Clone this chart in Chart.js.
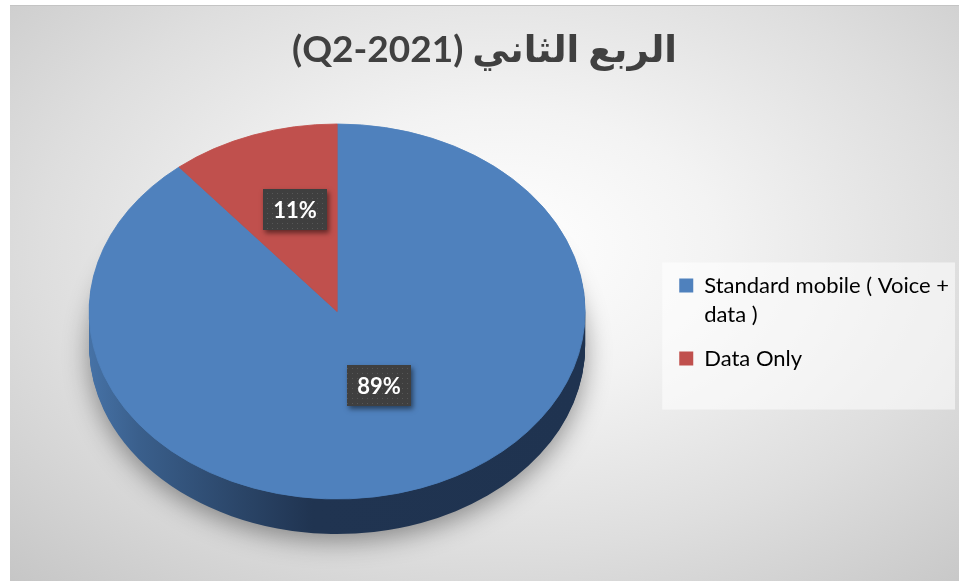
<!DOCTYPE html>
<html>
<head>
<meta charset="utf-8">
<script src="https://cdn.jsdelivr.net/npm/chart.js@4.4.1/dist/chart.umd.min.js"></script>
<style>
  html, body { margin: 0; padding: 0; background: #fff; }
  #wrap {
    position: absolute; left: 10px; top: 5px; width: 949px; height: 576px;
    background: radial-gradient(ellipse 75% 80% at 52% 42%, #ffffff 0%, #f3f3f3 30%, #dedede 65%, #c6c6c6 100%);
    border-top: 1px solid #c4c4c4;
  }
</style>
</head>
<body>
<div id="wrap"><canvas id="chartQ2" width="949" height="576"></canvas></div>
<script>
const chartTitle = '\u202Bالربع الثاني (Q2-2021)\u202C';
const categories = ['Standard mobile ( Voice + data )', 'Data Only'];
const legendLines = [['Standard mobile ( Voice +', 'data )'], ['Data Only']];
const shares = [89, 11];

const TILT = 0.756;   // squash of the top face
const DEPTH = 35;     // pie thickness
const LIFT = -14;     // moves the projected centre up
const LABEL_LIFT = -14;

function project(arc, x, y) {
    return { x: x, y: arc.y + LIFT + (y - arc.y) * TILT };
}

function setTilt(ctx, arc, extra) {
    ctx.translate(0, arc.y + LIFT + extra);
    ctx.scale(1, TILT);
    ctx.translate(0, -arc.y);
}

function ghost(arc, bg) {
    const g = Object.create(arc);
    g.options = Object.assign({}, arc.options, { backgroundColor: bg, borderWidth: 0 });
    return g;
}

const dots = document.createElement('canvas');
dots.width = 5; dots.height = 5;
const dctx = dots.getContext('2d');
dctx.fillStyle = '#3f3f3f';
dctx.fillRect(0, 0, 5, 5);
dctx.fillStyle = '#575757';
dctx.fillRect(2, 2, 1, 1);

const pie3d = {
    id: 'pie3d',
    beforeDraw(chart) {
        const lg = chart.legend;
        if (!lg || !lg.legendHitBoxes || !lg.legendHitBoxes.length) return;
        const hb = lg.legendHitBoxes;
        const last = hb[hb.length - 1];
        const ctx = chart.ctx;
        ctx.save();
        ctx.fillStyle = 'rgba(255,255,255,0.55)';
        const top = hb[0].top - 12;
        ctx.fillRect(lg.left - 2, top, lg.right - lg.left - 2, last.top + last.height + 33 - top);
        ctx.restore();
    },
    beforeDatasetsDraw(chart) {
        const ctx = chart.ctx;
        const arcs = chart.getDatasetMeta(0).data;
        const a0 = arcs[0];
        const r = a0.outerRadius;
        const side = ctx.createLinearGradient(a0.x - r, 0, a0.x + r, 0);
        side.addColorStop(0, '#4672a6');
        side.addColorStop(0.1, '#3a5f8c');
        side.addColorStop(0.3, '#2b4669');
        side.addColorStop(0.45, '#203451');
        side.addColorStop(1, '#1f3350');

        for (let d = DEPTH; d > 0; d--) {
            ctx.save();
            if (d === DEPTH) {
                ctx.shadowColor = 'rgba(0,0,0,0.4)';
                ctx.shadowBlur = 26;
                ctx.shadowOffsetY = 7;
            }
            setTilt(ctx, a0, d);
            arcs.forEach(a => ghost(a, side).draw(ctx));
            ctx.restore();
        }
        ctx.save();
        setTilt(ctx, a0, 0);
    },
    afterDatasetsDraw(chart) {
        const ctx = chart.ctx;
        ctx.restore();
        const arcs = chart.getDatasetMeta(0).data;
        const pattern = ctx.createPattern(dots, 'repeat');
        arcs.forEach((arc, i) => {
            const c = arc.tooltipPosition();
            const p = project(arc, c.x, c.y);
            p.y += LABEL_LIFT;
            const text = shares[i] + '%';
            ctx.save();
            ctx.font = 'bold 22px Lato';
            const w = Math.round(ctx.measureText(text).width + 20);
            const h = 41;
            const x0 = Math.round(p.x - w / 2), y0 = Math.round(p.y - h / 2);
            ctx.shadowColor = 'rgba(0,0,0,0.5)';
            ctx.shadowBlur = 5;
            ctx.shadowOffsetX = 2;
            ctx.shadowOffsetY = 3;
            ctx.fillStyle = '#3f3f3f';
            ctx.fillRect(x0, y0, w, h);
            ctx.shadowColor = 'transparent';
            ctx.fillStyle = pattern;
            ctx.fillRect(x0, y0, w, h);
            ctx.fillStyle = '#ffffff';
            ctx.textAlign = 'center';
            ctx.textBaseline = 'middle';
            ctx.fillText(text, x0 + w / 2, y0 + h / 2 + 1);
            ctx.restore();
        });
    }
};

new Chart(document.getElementById('chartQ2'), {
    type: 'pie',
    data: {
        labels: categories,
        datasets: [{
            data: shares,
            backgroundColor: ['#4f81bd', '#c0504d'],
            borderColor: ['#4f81bd', '#c0504d'],
            borderWidth: 1,
            clip: false
        }]
    },
    options: {
        responsive: false,
        animation: false,
        radius: 248,
        layout: { padding: { left: 0, right: 0, top: 0, bottom: 0 } },
        plugins: {
            title: {
                display: true,
                text: chartTitle,
                color: '#404040',
                font: { family: "Lato, 'DejaVu Sans', sans-serif", size: 37, weight: 'bold', lineHeight: 1.0 },
                padding: { top: 26, bottom: 0 }
            },
            legend: {
                position: 'right',
                align: 'center',
                fullSize: false,
                labels: {
                    boxWidth: 14,
                    boxHeight: 14,
                    padding: 15,
                    color: '#404040',
                    font: { family: 'Lato', size: 22, lineHeight: 1.32 },
                    generateLabels(chart) {
                        const ds = chart.data.datasets[0];
                        return legendLines.map((text, i) => ({
                            text: text,
                            fillStyle: ds.backgroundColor[i],
                            strokeStyle: ds.backgroundColor[i],
                            lineWidth: 0,
                            hidden: false,
                            index: i
                        }));
                    }
                }
            },
            tooltip: { enabled: false }
        }
    },
    plugins: [pie3d]
});
</script>
</body>
</html>
